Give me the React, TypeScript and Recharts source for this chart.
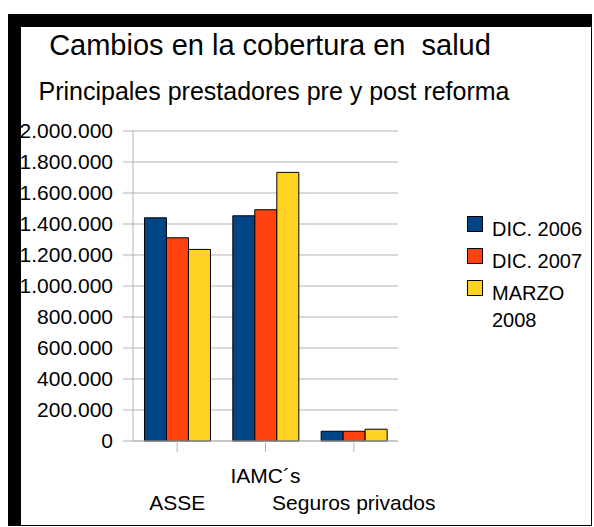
import React from 'react';
import { BarChart, Bar, XAxis, YAxis, CartesianGrid } from 'recharts';

const categories = ['ASSE', 'IAMC´s', 'Seguros privados'];
const dic2006 = [1440000, 1453000, 63000];
const dic2007 = [1311000, 1492000, 63000];
const marzo2008 = [1236000, 1733000, 76000];
const seriesNames = ['DIC. 2006', 'DIC. 2007', 'MARZO 2008'];
const seriesColors = ['#004586', '#ff420e', '#ffd320'];
const yTicks = [0, 200000, 400000, 600000, 800000, 1000000, 1200000, 1400000, 1600000, 1800000, 2000000];
const title = 'Cambios en la cobertura en  salud';
const subtitle = 'Principales prestadores pre y post reforma';

const data = categories.map((name, i) => ({
  name,
  s0: dic2006[i],
  s1: dic2007[i],
  s2: marzo2008[i],
}));

const FONT = '"Liberation Sans", Arial, sans-serif';
const GRID = '#b3b3b3';

const fmt = (v: number) => String(v).replace(/\B(?=(\d{3})+(?!\d))/g, '.');

const XTick = (props: any) => {
  const { x, y, payload, index } = props;
  const dy = index % 2 === 1 ? 29 : 56;
  return (
    <text x={x} y={y + dy} textAnchor="middle" fontSize={21} fontFamily={FONT} fill="#000">
      {payload.value}
    </text>
  );
};

export default function App() {
  return (
    <div style={{ position: 'absolute', left: 0, top: 0, width: 594, height: 527, background: '#fff', fontFamily: FONT }}>
      <div
        style={{
          position: 'absolute',
          left: 8,
          top: 14,
          width: 584,
          height: 512,
          boxSizing: 'border-box',
          borderLeft: '13px solid #000',
          borderTop: '13px solid #000',
          borderRight: '1px solid #000',
          borderBottom: '1px solid #000',
        }}
      />
      <svg style={{ position: 'absolute', left: 0, top: 0 }} width={594} height={527}>
        <text x={270} y={55} textAnchor="middle" fontSize={29} fontFamily={FONT} fill="#000" style={{ whiteSpace: 'pre' }} xmlSpace="preserve">
          {title}
        </text>
        <text x={274} y={100} textAnchor="middle" fontSize={25} fontFamily={FONT} fill="#000">
          {subtitle}
        </text>
      </svg>
      <div style={{ position: 'absolute', left: 0, top: 0 }}>
        <BarChart
          width={594}
          height={527}
          data={data}
          margin={{ top: 131, right: 196, bottom: 16, left: 33 }}
          barCategoryGap="13%"
          barGap={0}
        >
          <CartesianGrid vertical={false} stroke={GRID} strokeDasharray="" />
          <XAxis
            dataKey="name"
            height={70}
            tickSize={11}
            tickLine={{ stroke: GRID }}
            axisLine={{ stroke: GRID }}
            tick={<XTick />}
            interval={0}
          />
          <YAxis
            width={100}
            domain={[0, 2000000]}
            ticks={yTicks}
            tickFormatter={fmt}
            tickSize={10}
            tickMargin={10}
            tickLine={{ stroke: GRID }}
            axisLine={{ stroke: GRID }}
            tick={{ fontSize: 21, fontFamily: FONT, fill: '#000' }}
            interval={0}
          />
          <YAxis
            yAxisId="right"
            orientation="right"
            width={0}
            domain={[0, 2000000]}
            tick={false}
            tickLine={false}
            axisLine={{ stroke: GRID }}
          />
          <Bar dataKey="s0" name={seriesNames[0]} fill={seriesColors[0]} stroke="#000" strokeWidth={1} isAnimationActive={false} />
          <Bar dataKey="s1" name={seriesNames[1]} fill={seriesColors[1]} stroke="#000" strokeWidth={1} isAnimationActive={false} />
          <Bar dataKey="s2" name={seriesNames[2]} fill={seriesColors[2]} stroke="#000" strokeWidth={1} isAnimationActive={false} />
        </BarChart>
      </div>
      <div style={{ position: 'absolute', left: 467, top: 216 }}>
        {seriesNames.map((n, i) => (
          <div key={n} style={{ display: 'flex', alignItems: 'flex-start', marginBottom: 5 }}>
            <div
              style={{
                width: 16,
                height: 16,
                flex: 'none',
                boxSizing: 'border-box',
                border: '1px solid #000',
                background: seriesColors[i],
              }}
            />
            <div style={{ marginLeft: 9, width: 95, fontSize: 20, lineHeight: '27px', marginTop: 0, color: '#000' }}>{n}</div>
          </div>
        ))}
      </div>
    </div>
  );
}
